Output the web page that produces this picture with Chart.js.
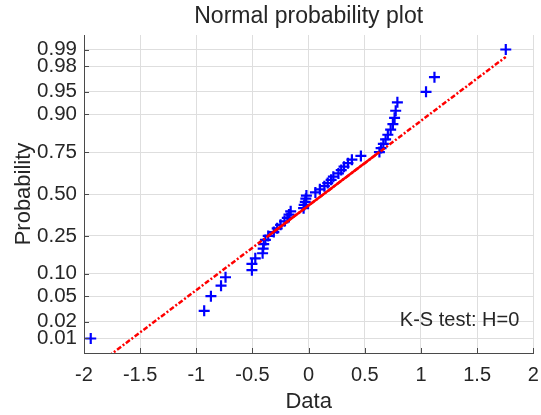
<!DOCTYPE html>
<html>
<head>
<meta charset="utf-8">
<script src="https://cdn.jsdelivr.net/npm/chart.js@4/dist/chart.umd.min.js"></script>
<style>
    html, body { margin: 0; padding: 0; background: #fff; }
    #wrap { width: 541px; height: 415px; }
</style>
</head>
<body>
<div id="wrap"><canvas id="probPlot"></canvas></div>
<script>
// sorted sample values
const sampleValues = [
    -1.94, -0.93, -0.87, -0.78, -0.74, -0.505, -0.505, -0.475, -0.41, -0.405,
    -0.40, -0.385, -0.36, -0.31, -0.28, -0.25, -0.215, -0.19, -0.175, -0.16,
    -0.045, -0.04, -0.03, -0.025, -0.02, 0.06, 0.10, 0.14, 0.17, 0.20,
    0.22, 0.265, 0.29, 0.315, 0.35, 0.385, 0.465, 0.63, 0.645, 0.665,
    0.685, 0.705, 0.73, 0.75, 0.765, 0.775, 0.79, 1.045, 1.12, 1.755
];
const probTicks = [0.01, 0.02, 0.05, 0.10, 0.25, 0.50, 0.75, 0.90, 0.95, 0.98, 0.99];
const xTicks = [-2, -1.5, -1, -0.5, 0, 0.5, 1, 1.5, 2];
const titleText = 'Normal probability plot';
const testLabel = 'K-S test: H=0';

// inverse standard normal cdf (Acklam)
function norminv(p) {
    const a = [-3.969683028665376e+01, 2.209460984245205e+02, -2.759285104469687e+02, 1.383577518672690e+02, -3.066479806614716e+01, 2.506628277459239e+00];
    const b = [-5.447609879822406e+01, 1.615858368580409e+02, -1.556989798598866e+02, 6.680131188771972e+01, -1.328068155288572e+01];
    const c = [-7.784894002430293e-03, -3.223964580411365e-01, -2.400758277161838e+00, -2.549732539343734e+00, 4.374664141464968e+00, 2.938163982698783e+00];
    const d = [7.784695709041462e-03, 3.224671290700398e-01, 2.445134137142996e+00, 3.754408661907416e+00];
    const plow = 0.02425;
    let q, r;
    if (p < plow) {
        q = Math.sqrt(-2 * Math.log(p));
        return (((((c[0]*q+c[1])*q+c[2])*q+c[3])*q+c[4])*q+c[5]) / ((((d[0]*q+d[1])*q+d[2])*q+d[3])*q+1);
    }
    if (p > 1 - plow) {
        q = Math.sqrt(-2 * Math.log(1 - p));
        return -(((((c[0]*q+c[1])*q+c[2])*q+c[3])*q+c[4])*q+c[5]) / ((((d[0]*q+d[1])*q+d[2])*q+d[3])*q+1);
    }
    q = p - 0.5;
    r = q * q;
    return (((((a[0]*r+a[1])*r+a[2])*r+a[3])*r+a[4])*r+a[5])*q / (((((b[0]*r+b[1])*r+b[2])*r+b[3])*r+b[4])*r+1);
}

const n = sampleValues.length;
const points = sampleValues.map((v, i) => ({ x: v, y: norminv((i + 0.5) / n) }));

// reference line through the quartiles
const q1 = sampleValues[Math.round(0.25 * n + 0.5) - 1];
const q3 = sampleValues[Math.round(0.75 * n + 0.5) - 1];
const z1 = norminv(0.25), z3 = norminv(0.75);
const slope = (z3 - z1) / (q3 - q1);
const lineAt = x => z1 + slope * (x - q1);
const xMin = sampleValues[0], xMax = sampleValues[n - 1];
const fitOuter = [{ x: xMin, y: lineAt(xMin) }, { x: xMax, y: lineAt(xMax) }];
const fitInner = [{ x: q1, y: z1 }, { x: q3, y: z3 }];

const yLim = 2.56;
const axisColor = '#4a4a4a';
const textColor = '#262626';
const fontFamily = '"Liberation Sans", Arial, sans-serif';

// MATLAB style inward ticks, title over the axes, annotation
const extrasPlugin = {
    id: 'extras',
    afterDraw(chart) {
        const { ctx, chartArea, scales } = chart;
        ctx.save();
        ctx.strokeStyle = axisColor;
        ctx.lineWidth = 1;
        ctx.beginPath();
        scales.x.ticks.forEach(t => {
            const px = Math.round(scales.x.getPixelForValue(t.value)) + 0.5;
            ctx.moveTo(px, chartArea.bottom);
            ctx.lineTo(px, chartArea.bottom - 5);
        });
        scales.y.ticks.forEach(t => {
            const py = Math.round(scales.y.getPixelForValue(t.value)) + 0.5;
            ctx.moveTo(chartArea.left, py);
            ctx.lineTo(chartArea.left + 5, py);
        });
        ctx.stroke();

        ctx.fillStyle = textColor;
        ctx.textBaseline = 'middle';
        ctx.font = '23px ' + fontFamily;
        ctx.textAlign = 'center';
        ctx.fillText(titleText, (chartArea.left + chartArea.right) / 2, 17);

        ctx.font = '20px ' + fontFamily;
        ctx.textAlign = 'right';
        ctx.fillText(testLabel, chartArea.right - 14, chartArea.bottom - 33);
        ctx.restore();
    }
};

new Chart(document.getElementById('probPlot'), {
    type: 'scatter',
    data: {
        datasets: [
            {
                data: fitInner,
                showLine: true,
                borderColor: '#ff0000',
                borderWidth: 2.5,
                pointRadius: 0
            },
            {
                data: fitOuter,
                showLine: true,
                borderColor: '#ff0000',
                borderWidth: 2.5,
                borderDash: [5, 2, 2, 2],
                pointRadius: 0
            },
            {
                data: points,
                pointStyle: 'cross',
                pointRadius: 5.5,
                borderColor: '#0000ff',
                borderWidth: 2.2,
                showLine: false
            }
        ]
    },
    plugins: [extrasPlugin],
    options: {
        responsive: true,
        maintainAspectRatio: false,
        animation: false,
        events: [],
        layout: { padding: { left: 0, right: 0, top: 35, bottom: 0 } },
        plugins: {
            legend: { display: false },
            tooltip: { enabled: false },
            title: { display: false }
        },
        scales: {
            x: {
                type: 'linear',
                min: -2,
                max: 2,
                afterBuildTicks: s => { s.ticks = xTicks.map(v => ({ value: v })); },
                afterFit: s => { s.height = 62; s.paddingLeft = 0; s.paddingRight = 0; },
                ticks: {
                    color: textColor,
                    padding: 0,
                    font: { family: fontFamily, size: 20 },
                    callback: v => String(v)
                },
                grid: { color: '#dedede', drawTicks: true, tickLength: 10, tickColor: 'rgba(0,0,0,0)' },
                border: { color: axisColor },
                title: {
                    display: true,
                    text: 'Data',
                    color: textColor,
                    font: { family: fontFamily, size: 22 },
                    padding: { top: 0, bottom: 0 }
                }
            },
            y: {
                type: 'linear',
                min: -yLim,
                max: yLim,
                afterBuildTicks: s => { s.ticks = probTicks.map(p => ({ value: norminv(p) })); },
                afterFit: s => { s.width = 84; s.paddingTop = 0; s.paddingBottom = 0; },
                ticks: {
                    color: textColor,
                    padding: 7,
                    font: { family: fontFamily, size: 20.5 },
                    callback: (v, i) => probTicks[i].toFixed(2)
                },
                grid: { color: '#dedede', drawTicks: false },
                border: { color: axisColor },
                title: {
                    display: true,
                    text: 'Probability',
                    color: textColor,
                    font: { family: fontFamily, size: 22 },
                    padding: { top: 11, bottom: 0 }
                }
            }
        }
    }
});
</script>
</body>
</html>
